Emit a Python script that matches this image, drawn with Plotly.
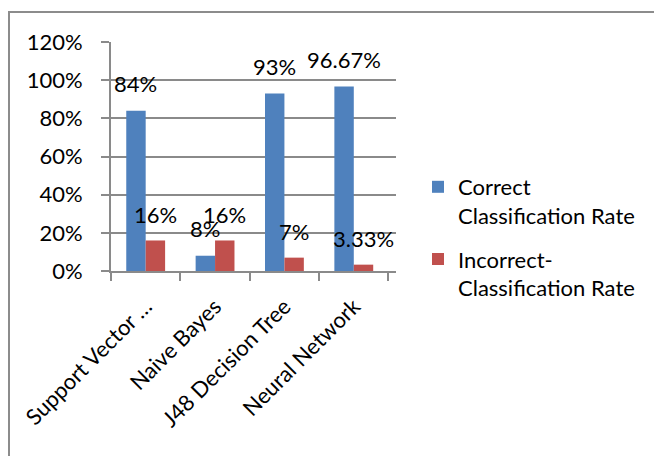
import plotly.graph_objects as go

categories = ["Support Vector …", "Naive Bayes", "J48 Decision Tree", "Neural Network"]
correct = [0.84, 0.08, 0.93, 0.9667]
incorrect = [0.16, 0.16, 0.07, 0.0333]
correct_labels = ["84%", "8%", "93%", "96.67%"]
incorrect_labels = ["16%", "16%", "7%", "3.33%"]
series_names = ["Correct<br>Classification Rate", "Incorrect-<br>Classification Rate"]

W, H = 654, 456
L, R, T, B = 111, 258, 42, 185
PW, PH = W - L - R, H - T - B
FONT = "Lato, Calibri, Arial, sans-serif"
GRID = "#8A8A8A"
BLUE = "#4F81BD"
RED = "#C0504D"


def px(x):
    return (x - L) / PW


def py(y):
    return (H - B - y) / PH


fig = go.Figure()
fig.add_trace(go.Bar(x=categories, y=correct, name=series_names[0], marker_color=BLUE,
                     marker_line_width=0, legendgroup="a"))
fig.add_trace(go.Bar(x=categories, y=incorrect, name=series_names[1], marker_color=RED,
                     marker_line_width=0, legendgroup="b"))

off = 0.14
for i in range(len(categories)):
    fig.add_annotation(x=i - off, y=correct[i], text=correct_labels[i], showarrow=False,
                       yanchor="middle", yshift=27, font=dict(family=FONT, size=22, color="black"))
    fig.add_annotation(x=i + off, y=incorrect[i], text=incorrect_labels[i], showarrow=False,
                       yanchor="middle", yshift=26, font=dict(family=FONT, size=22, color="black"))

# chart border (left and top edges)
fig.add_shape(type="path", xref="paper", yref="paper",
              path=f"M {px(9)},{py(456)} L {px(9)},{py(12)} L {px(654)},{py(12)}",
              line=dict(color="#8C8C8C", width=2))

fig.update_layout(
    width=W, height=H,
    margin=dict(l=L, r=R, t=T, b=B),
    paper_bgcolor="white", plot_bgcolor="white",
    barmode="group", bargap=0.44, bargroupgap=0,
    font=dict(family=FONT, size=22, color="black"),
    showlegend=True,
    legend=dict(x=px(418), y=py(166), xanchor="left", yanchor="top", xref="paper", yref="paper",
                valign="top", tracegroupgap=12, font=dict(family=FONT, size=22, color="black"),
                bgcolor="rgba(0,0,0,0)"),
    xaxis=dict(type="category", showline=True, linecolor=GRID, linewidth=2,
               ticks="outside", tickson="boundaries", ticklen=8, tickcolor=GRID, tickwidth=2,
               tickangle=-45, showgrid=False, ticklabelstandoff=12,
               tickfont=dict(family=FONT, size=22, color="black")),
    yaxis=dict(range=[0, 1.2], dtick=0.2, tickformat=".0%", showgrid=True, gridcolor=GRID,
               gridwidth=2, showline=True, linecolor=GRID, linewidth=2, ticks="outside",
               ticklen=8, tickcolor=GRID, tickwidth=2, zeroline=False, ticklabelstandoff=14,
               tickfont=dict(family=FONT, size=22, color="black")),
)

fig.write_html("out.html")
